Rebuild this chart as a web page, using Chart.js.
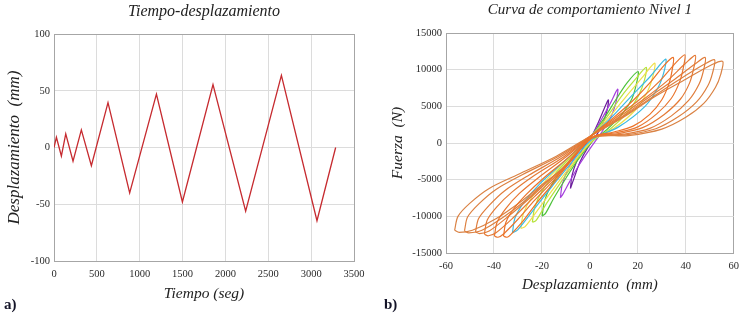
<!DOCTYPE html>
<html>
<head>
<meta charset="utf-8">
<script src="https://cdn.jsdelivr.net/npm/chart.js@4.4.1/dist/chart.umd.min.js"></script>
<style>
  html,body{margin:0;padding:0;background:#fff;}
  #wrap{position:relative;width:746px;height:321px;overflow:hidden;background:#fff;}
  canvas{position:absolute;top:0;}
  .lbl{position:absolute;font-family:"Liberation Serif","Times New Roman",serif;font-weight:bold;font-size:15px;color:#141428;}
</style>
</head>
<body>
<div id="wrap">
  <canvas id="cA" width="373" height="321" style="left:0"></canvas>
  <canvas id="cB" width="373" height="321" style="left:373px"></canvas>
  <div class="lbl" style="left:4px;top:296px;">a)</div>
  <div class="lbl" style="left:384px;top:296px;">b)</div>
</div>
<script>
// ---------- Panel a: time - displacement ----------
const timeSec = [0, 28, 86, 137, 222, 319, 436, 630, 883, 1195, 1498, 1855, 2236, 2653, 3068, 3286];
const dispMm  = [0, 9, -7.5, 12, -12, 15.5, -16, 39.5, -40, 47, -48, 55.5, -56, 63.5, -64.5, 0];
const timeTicks = [0, 500, 1000, 1500, 2000, 2500, 3000, 3500];
const dispTicks = [-100, -50, 0, 50, 100];

// ---------- Panel b: force - displacement loops [mm, N] ----------
const loopPurple = [[-8.1,-6200],[-7.5,-4500],[-5.5,-2500],[-2.5,-500],[1,1100],[3.5,2800],[6,4700],[7.7,5880],
  [7.2,4500],[5.5,2800],[2.5,900],[-1,-700],[-4,-2500],[-6.5,-4700],[-8.1,-6200]];
const loopViolet = [[-12.3,-7480],[-11.5,-5600],[-9,-3500],[-5,-1300],[1,1100],[5,3300],[8.5,5400],[11.6,7340],
  [11,5700],[9,3700],[5,1500],[0,-800],[-4.5,-3000],[-8.5,-5300],[-11.3,-7000],[-12.3,-7480]];
const loopGreen = [[-19.9,-9980],[-19,-8000],[-16.5,-6000],[-12,-3800],[-6,-1600],[1,1100],[6,3400],[11,6000],[15.5,8200],[20.1,9750],
  [19.5,8200],[17.5,6000],[13.5,4000],[7,1800],[1,200],[-5,-2300],[-10,-4800],[-15,-7500],[-18.5,-9600],[-19.9,-9980]];
const loopLime = [[-24,-10800],[-23,-8800],[-20,-6600],[-14.5,-4200],[-7,-1600],[1,1100],[7,3500],[13,6300],[19,8700],[23.5,10300],
  [22.8,8600],[20.5,6600],[16,4300],[8.5,1900],[1,250],[-6,-2500],[-12,-5300],[-18,-8200],[-22.5,-10600],[-24,-10800]];
const loopYellow = [[-28.8,-11660],[-27.7,-9600],[-24.2,-7400],[-18,-5000],[-8,-1800],[1,1100],[8,3500],[15,6300],[21.5,8800],[27,10900],
  [26.3,9100],[24,7000],[19,4500],[10,2000],[1,350],[-7,-2700],[-14,-5700],[-21,-8800],[-27,-11400],[-28.8,-11660]];
const loopCyan = [[-32.3,-12260],[-31.2,-10200],[-27.5,-8100],[-21,-5600],[-9,-2000],[1,1100],[9,3500],[17,6300],[25,9000],[31.6,11440],
  [30.9,9700],[28.5,7600],[23,5000],[12,2200],[1,500],[-8,-2800],[-15.5,-5800],[-23,-8900],[-30,-11800],[-32.3,-12260]];
const loopOrange1 = [[-36,-12700],[-35,-10800],[-31.8,-9000],[-26.5,-7000],[-19,-4700],[-9,-2000],[1,1100],[10,3500],[18,5800],[25,8200],[31.5,10800],[34.8,11660],
  [34.3,9900],[33,8100],[30,5900],[25,3900],[18,2300],[10,1500],[1,800],[-8,-2500],[-15,-5400],[-22,-8100],[-28,-10700],[-33,-12500],[-34.5,-12850],[-36,-12700]];
const loopOrange2 = [[-39.8,-12700],[-38.7,-10800],[-35,-8900],[-29.5,-6900],[-21,-4600],[-10,-1900],[1,1100],[11,3500],[21,6000],[29,8400],[36,11000],[39.6,12030],
  [39,10300],[37.5,8400],[34,6100],[28,4000],[20,2200],[11,1400],[1,800],[-9,-2800],[-16,-5400],[-23,-7800],[-30,-10400],[-36,-12400],[-38.3,-12850],[-39.8,-12700]];
const loopOrange3 = [[-44,-12440],[-42.8,-10500],[-38.8,-8700],[-32.5,-6700],[-23.5,-4500],[-11,-1900],[1,1100],[12,3500],[23,6100],[32,8400],[40,10900],[44,11940],
  [43.3,10200],[41.6,8200],[37.8,6000],[31,3900],[22,2100],[12,1300],[1,750],[-10,-3100],[-17,-5400],[-24,-7600],[-32,-10200],[-39,-12200],[-42.3,-12650],[-44,-12440]];
const loopOrange4 = [[-47.7,-12130],[-46.4,-10300],[-42,-8500],[-35.5,-6500],[-25.5,-4400],[-12,-1850],[1,1100],[13,3500],[24.5,6200],[34.5,8500],[44,10800],[48.1,11660],
  [47.4,9900],[45.5,8000],[41.2,5800],[34,3700],[25,2000],[14,1200],[1,720],[-11,-3300],[-18,-5400],[-25,-7500],[-34,-10000],[-42,-12000],[-46,-12350],[-47.7,-12130]];
const loopOrange5 = [[-52.3,-11990],[-51,-10100],[-46.3,-8300],[-39,-6300],[-28,-4300],[-13,-1800],[1,1100],[13.5,3500],[26,6250],[37,8600],[47.5,10700],[52,11350],
  [51.2,9600],[49.2,7800],[44.5,5600],[37,3600],[27.5,1950],[15,1100],[1,700],[-11.5,-3500],[-19,-5500],[-26,-7600],[-36,-10100],[-45,-11900],[-50.5,-12250],[-52.3,-11990]];
const loopOrange6 = [[-56.4,-11900],[-55,-10000],[-50,-8200],[-42,-6200],[-30,-4300],[-14,-1800],[1,1100],[14,3500],[27,6300],[40,8700],[51,10700],[55.4,11120],
  [54.6,9400],[52.4,7600],[47.5,5400],[40,3500],[30,1900],[16,1000],[1,700],[-12,-3700],[-20,-5700],[-28,-7800],[-39,-10300],[-49,-11900],[-54.5,-12200],[-56.4,-11900]];
const dispTicksB = [-60, -40, -20, 0, 20, 40, 60];
const forceTicks = [-15000, -10000, -5000, 0, 5000, 10000, 15000];

const SERIF = '"Liberation Serif","Times New Roman",serif';
const GRID = '#dcdcdc', EDGE = '#a6a6a6', TXT = '#2a2a2a';

function gridColor(n){ return (c) => (c.index === 0 || c.index === n - 1) ? EDGE : GRID; }
function fixedTicks(list){ return function(scale){ scale.ticks = list.map(v => ({value: v})); }; }
const plain = (v) => String(v);

// ---------- Chart a ----------
new Chart(document.getElementById('cA'), {
  type: 'scatter',
  data: { datasets: [{
    data: timeSec.map((t, i) => ({x: t, y: dispMm[i]})),
    showLine: true, borderColor: '#c62a2f', borderWidth: 1.3, pointRadius: 0, tension: 0
  }]},
  options: {
    responsive: false, animation: false, devicePixelRatio: 1,
    layout: { padding: { left: 0, right: 19, top: 0, bottom: 15 } },
    plugins: {
      legend: { display: false }, tooltip: { enabled: false },
      title: { display: true, text: 'Tiempo-desplazamiento', fullSize: false, color: '#222',
        font: { family: SERIF, size: 16, style: 'italic', weight: 'normal' }, padding: { top: 2, bottom: 12.8 } }
    },
    scales: {
      x: { type: 'linear', min: 0, max: 3500, afterBuildTicks: fixedTicks(timeTicks),
        ticks: { color: TXT, font: { family: SERIF, size: 10.5 }, padding: 7, maxRotation: 0, callback: plain },
        grid: { color: gridColor(timeTicks.length), drawTicks: false },
        border: { display: true, color: EDGE },
        title: { display: true, text: 'Tiempo (seg)', color: '#222',
          font: { family: SERIF, size: 15.5, style: 'italic' }, padding: { top: 0, bottom: 2.7 } },
        afterFit: (s) => { s.height = 45; } },
      y: { type: 'linear', min: -100, max: 100, afterBuildTicks: fixedTicks(dispTicks),
        ticks: { color: TXT, font: { family: SERIF, size: 10.5 }, padding: 4, callback: plain },
        grid: { color: gridColor(dispTicks.length), drawTicks: false },
        border: { display: true, color: EDGE },
        title: { display: true, text: 'Desplazamiento  (mm)', color: '#222',
          font: { family: SERIF, size: 17, style: 'italic' }, padding: { top: 4.8, bottom: 0 } },
        afterFit: (s) => { s.width = 54; } }
    }
  }
});

// ---------- Chart b ----------
const loops = [
  { d: loopOrange1, c: '#ec7228' }, { d: loopOrange2, c: '#e87630' }, { d: loopOrange3, c: '#e47a36' },
  { d: loopOrange4, c: '#e07d3c' }, { d: loopOrange5, c: '#dd8040' }, { d: loopOrange6, c: '#da8244' },
  { d: loopCyan, c: '#3cbbe2' }, { d: loopYellow, c: '#efe04c' }, { d: loopLime, c: '#b6e23c' },
  { d: loopGreen, c: '#4fc23c' }, { d: loopViolet, c: '#a43fdc' }, { d: loopPurple, c: '#6c1e9c' }
];
new Chart(document.getElementById('cB'), {
  type: 'scatter',
  data: { datasets: loops.map(l => ({
    data: l.d.map(p => ({x: p[0], y: p[1]})),
    showLine: true, borderColor: l.c, borderWidth: 1.2, pointRadius: 0, tension: 0.3
  }))},
  options: {
    responsive: false, animation: false, devicePixelRatio: 1,
    layout: { padding: { left: 0, right: 10, top: 0, bottom: 23 } },
    plugins: {
      legend: { display: false }, tooltip: { enabled: false },
      title: { display: true, text: 'Curva de comportamiento Nivel 1', fullSize: false, color: '#222',
        font: { family: SERIF, size: 15, style: 'italic', weight: 'normal' }, padding: { top: 1.5, bottom: 13.5 } }
    },
    scales: {
      x: { type: 'linear', min: -60, max: 60, afterBuildTicks: fixedTicks(dispTicksB),
        ticks: { color: TXT, font: { family: SERIF, size: 10.5 }, padding: 7, maxRotation: 0, callback: plain },
        grid: { color: gridColor(dispTicksB.length), drawTicks: false },
        border: { display: true, color: EDGE },
        title: { display: true, text: 'Desplazamiento  (mm)', color: '#222',
          font: { family: SERIF, size: 15, style: 'italic' }, padding: { top: 0, bottom: 4 } },
        afterFit: (s) => { s.height = 45; } },
      y: { type: 'linear', min: -15000, max: 15000, afterBuildTicks: fixedTicks(forceTicks),
        ticks: { color: TXT, font: { family: SERIF, size: 10.5 }, padding: 4, callback: plain },
        grid: { color: gridColor(forceTicks.length), drawTicks: false },
        border: { display: true, color: EDGE },
        title: { display: true, text: 'Fuerza  (N)', color: '#222',
          font: { family: SERIF, size: 15.5, style: 'italic' }, padding: { top: 15.7, bottom: 0 } },
        afterFit: (s) => { s.width = 73; } }
    }
  }
});
</script>
</body>
</html>
